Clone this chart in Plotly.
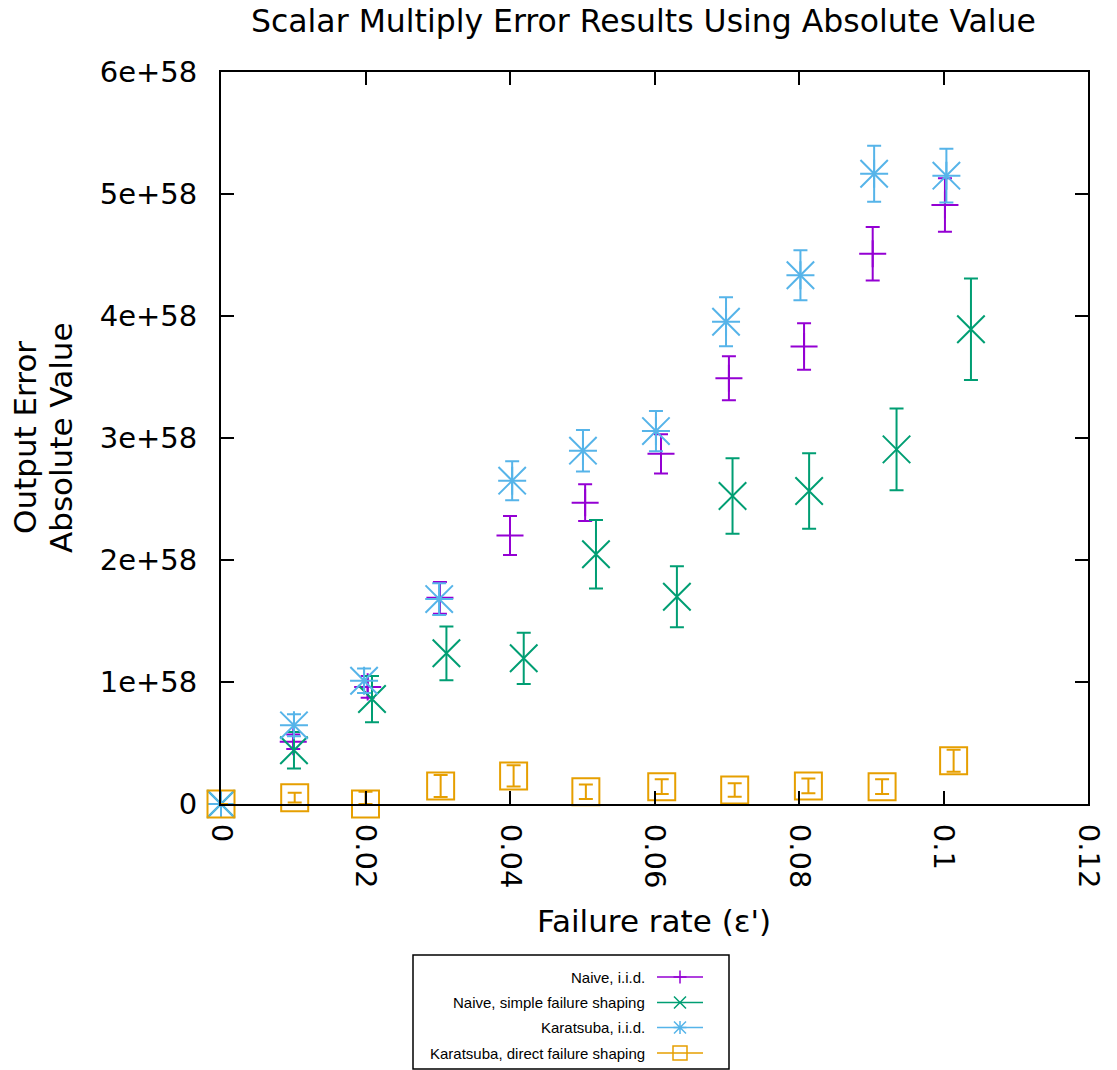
import numpy as np
import plotly.graph_objects as go

# Output error magnitudes are stored in units of 1e58
SCALE = 1e58

naive_iid_x = [0, 0.0100, 0.0203, 0.0303, 0.0400, 0.0504, 0.0609, 0.0703, 0.0807, 0.0902, 0.1002]
naive_iid_y = [0, 0.51, 0.96, 1.69, 2.20, 2.47, 2.87, 3.49, 3.75, 4.51, 4.91]
naive_iid_err = [0, 0.06, 0.09, 0.13, 0.16, 0.15, 0.16, 0.18, 0.19, 0.22, 0.22]

naive_shaping_x = [0, 0.0101, 0.0209, 0.0312, 0.0419, 0.0519, 0.0631, 0.0708, 0.0814, 0.0935, 0.1038]
naive_shaping_y = [0, 0.44, 0.86, 1.235, 1.194, 2.047, 1.699, 2.525, 2.566, 2.907, 3.891]
naive_shaping_err = [0, 0.15, 0.19, 0.22, 0.21, 0.28, 0.25, 0.31, 0.31, 0.335, 0.416]

kara_iid_x = [0, 0.0101, 0.0198, 0.0302, 0.0403, 0.0501, 0.0602, 0.0699, 0.0802, 0.0904, 0.1004]
kara_iid_y = [0, 0.645, 1.01, 1.68, 2.65, 2.896, 3.057, 3.953, 4.334, 5.166, 5.15]
kara_iid_err = [0, 0.09, 0.10, 0.13, 0.16, 0.17, 0.165, 0.20, 0.205, 0.23, 0.22]

kara_direct_x = [0, 0.0102, 0.0200, 0.0304, 0.0405, 0.0505, 0.0610, 0.0711, 0.0813, 0.0915, 0.1014]
kara_direct_y = [0, 0.052, 0.0, 0.148, 0.23, 0.10, 0.142, 0.115, 0.148, 0.142, 0.355]
kara_direct_err = [0, 0.04, 0.10, 0.09, 0.087, 0.06, 0.06, 0.055, 0.06, 0.06, 0.09]

x_ticks = [0, 0.02, 0.04, 0.06, 0.08, 0.10, 0.12]
x_tick_labels = ["0", "0.02", "0.04", "0.06", "0.08", "0.1", "0.12"]
y_ticks = [0, 1, 2, 3, 4, 5, 6]
y_tick_labels = ["0", "1e+58", "2e+58", "3e+58", "4e+58", "5e+58", "6e+58"]

series_names = ["Naive, i.i.d.", "Naive, simple failure shaping",
                "Karatsuba, i.i.d.", "Karatsuba, direct failure shaping"]
colors = ["#9400d3", "#009e73", "#56b4e9", "#e69f00"]

W, H = 1117, 1070
ML, MR, MT, MB = 221, 29, 72, 266
PW, PH = W - ML - MR, H - MT - MB
FONT = "DejaVu Sans"
LW = 2


def px(x):
    return (x - ML) / PW


def py(y):
    return (H - MB - y) / PH


def err_dict(y, err, color):
    y = np.asarray(y)
    err = np.asarray(err)
    # magnitudes cannot go below zero, so the lower bar stops at the axis
    return dict(type="data", symmetric=False,
                array=err * SCALE, arrayminus=np.minimum(err, y) * SCALE,
                color=color, thickness=LW, width=7)


def marker(symbol, size, color):
    return dict(symbol=symbol, size=size, color=color,
                line=dict(color=color, width=LW))


fig = go.Figure()

fig.add_trace(go.Scatter(
    x=naive_iid_x, y=np.asarray(naive_iid_y) * SCALE, mode="markers",
    name=series_names[0], marker=marker("cross-thin-open", 19.3, colors[0]),
    error_y=err_dict(naive_iid_y, naive_iid_err, colors[0]), cliponaxis=False))

fig.add_trace(go.Scatter(
    x=naive_shaping_x, y=np.asarray(naive_shaping_y) * SCALE, mode="markers",
    name=series_names[1], marker=marker("x-thin-open", 27.5, colors[1]),
    error_y=err_dict(naive_shaping_y, naive_shaping_err, colors[1]), cliponaxis=False))

# Karatsuba i.i.d. uses a star made of a plus and a cross
fig.add_trace(go.Scatter(
    x=kara_iid_x, y=np.asarray(kara_iid_y) * SCALE, mode="markers",
    name=series_names[2], marker=marker("cross-thin-open", 20, colors[2]),
    error_y=err_dict(kara_iid_y, kara_iid_err, colors[2]), cliponaxis=False))
fig.add_trace(go.Scatter(
    x=kara_iid_x, y=np.asarray(kara_iid_y) * SCALE, mode="markers",
    name=series_names[2], marker=marker("x-thin-open", 27.4, colors[2]),
    cliponaxis=False, showlegend=False))

fig.add_trace(go.Scatter(
    x=kara_direct_x, y=np.asarray(kara_direct_y) * SCALE, mode="markers",
    name=series_names[3], marker=marker("square-open", 27, colors[3]),
    error_y=err_dict(kara_direct_y, kara_direct_err, colors[3]), cliponaxis=False))

axis_common = dict(showline=True, linewidth=LW, linecolor="black", mirror="ticks",
                   ticks="inside", ticklen=13, tickwidth=LW, tickcolor="black",
                   showgrid=False, zeroline=False,
                   tickfont=dict(family=FONT, size=29, color="black"))

fig.update_xaxes(range=[0, 0.12], tickvals=x_ticks, ticktext=x_tick_labels,
                 tickangle=90, ticklabelstandoff=12, **axis_common)
fig.update_yaxes(range=[0, 6 * SCALE], tickvals=[v * SCALE for v in y_ticks],
                 ticktext=y_tick_labels, ticklabelstandoff=16, **axis_common)

annotations = [
    dict(text="Scalar Multiply Error Results Using Absolute Value",
         x=px(643), y=py(21), xref="paper", yref="paper",
         xanchor="center", yanchor="middle", showarrow=False,
         font=dict(family=FONT, size=31.5, color="black")),
    dict(text="Failure rate (ε')", x=px(654), y=py(921), xref="paper", yref="paper",
         xanchor="center", yanchor="middle", showarrow=False,
         font=dict(family=FONT, size=31, color="black")),
    dict(text="Output Error", x=px(25), y=py(438), xref="paper", yref="paper",
         xanchor="center", yanchor="middle", showarrow=False, textangle=-90,
         font=dict(family=FONT, size=31, color="black")),
    dict(text="Absolute Value", x=px(61), y=py(438), xref="paper", yref="paper",
         xanchor="center", yanchor="middle", showarrow=False, textangle=-90,
         font=dict(family=FONT, size=31, color="black")),
]

shapes = [dict(type="rect", xref="paper", yref="paper",
               x0=px(413), x1=px(729), y0=py(955), y1=py(1069),
               line=dict(color="black", width=1.5), layer="above")]

legend_rows = [977, 1002.5, 1027.5, 1053]
LX0, LX1, LXC, LTX = 657, 703, 680, 647


def seg(x0, y0, x1, y1):
    return f"M{px(x0)},{py(y0)} L{px(x1)},{py(y1)} "


for i, (name, color, yr) in enumerate(zip(series_names, colors, legend_rows)):
    annotations.append(dict(text=name, x=px(LTX), y=py(yr), xref="paper", yref="paper",
                            xanchor="right", yanchor="middle", showarrow=False,
                            font=dict(family="Liberation Sans", size=15, color="black")))
    shapes.append(dict(type="line", xref="paper", yref="paper",
                       x0=px(LX0), x1=px(LX1), y0=py(yr), y1=py(yr),
                       line=dict(color=color, width=1.5)))
    p = ""
    if i in (0, 2):
        h = 6.5
        p += seg(LXC - h, yr, LXC + h, yr) + seg(LXC, yr - h, LXC, yr + h)
    if i in (1, 2):
        h = 6
        p += seg(LXC - h, yr - h, LXC + h, yr + h) + seg(LXC - h, yr + h, LXC + h, yr - h)
    if i == 3:
        h = 7
        p += (f"M{px(LXC - h)},{py(yr - h)} L{px(LXC + h)},{py(yr - h)} "
              f"L{px(LXC + h)},{py(yr + h)} L{px(LXC - h)},{py(yr + h)} Z")
    shapes.append(dict(type="path", xref="paper", yref="paper", path=p,
                       line=dict(color=color, width=1.5)))

fig.update_layout(
    width=W, height=H,
    margin=dict(l=ML, r=MR, t=MT, b=MB, pad=0),
    paper_bgcolor="white", plot_bgcolor="white",
    showlegend=False,
    annotations=annotations, shapes=shapes,
)

fig.write_html("out.html")
